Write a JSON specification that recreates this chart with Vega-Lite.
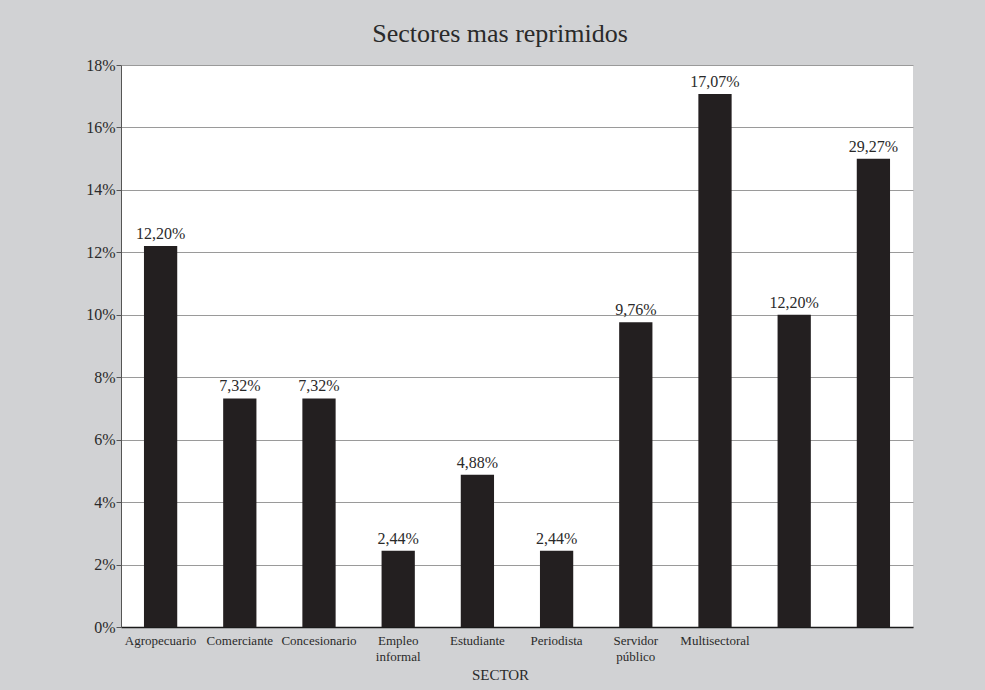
{
  "$schema": "https://vega.github.io/schema/vega-lite/v6.json",
  "width": 792,
  "height": 562,
  "autosize": {"type": "none"},
  "padding": {"left": 121, "top": 65, "right": 72, "bottom": 63},
  "background": "#d1d2d4",
  "title": {
    "text": "Sectores mas reprimidos",
    "font": "Liberation Serif",
    "fontSize": 26,
    "fontWeight": "normal",
    "color": "#2a2a2a",
    "anchor": "middle",
    "offset": 10,
    "dx": -17
  },
  "data": {
    "values": [
      {"sector": "Agropecuario", "pct": 12.2},
      {"sector": "Comerciante", "pct": 7.32},
      {"sector": "Concesionario", "pct": 7.32},
      {"sector": "Empleo|informal", "pct": 2.44},
      {"sector": "Estudiante", "pct": 4.88},
      {"sector": "Periodista", "pct": 2.44},
      {"sector": "Servidor|público", "pct": 9.76},
      {"sector": "Multisectoral", "pct": 17.07},
      {"sector": " ", "pct": 10, "etiqueta": "12,20%"},
      {"sector": "  ", "pct": 15, "etiqueta": "29,27%"}
    ]
  },
  "transform": [
    {"calculate": "datum.etiqueta ? datum.etiqueta : replace(format(datum.pct, '.2f'), '.', ',') + '%'", "as": "texto"}
  ],
  "encoding": {
    "x": {
      "field": "sector",
      "type": "nominal",
      "sort": null,
      "scale": {"paddingInner": 0.58, "paddingOuter": 0.29},
      "axis": {
        "title": "SECTOR",
        "titleFont": "Liberation Serif",
        "titleFontSize": 15,
        "titleFontWeight": "normal",
        "titleColor": "#2a2a2a",
        "titlePadding": 4,
        "titleX": 379,
        "labelAngle": 0,
        "labelFont": "Liberation Serif",
        "labelFontSize": 13,
        "labelColor": "#2a2a2a",
        "labelLineHeight": 16,
        "labelPadding": 7,
        "labelExpr": "split(datum.label, '|')",
        "ticks": false,
        "domainColor": "#1a1a1a",
        "domainWidth": 1.5,
        "grid": false
      }
    },
    "y": {
      "field": "pct",
      "type": "quantitative",
      "scale": {"domain": [0, 18], "nice": false},
      "axis": {
        "title": null,
        "values": [0, 2, 4, 6, 8, 10, 12, 14, 16, 18],
        "labelExpr": "datum.value + '%'",
        "labelFont": "Liberation Serif",
        "labelFontSize": 16,
        "labelColor": "#2a2a2a",
        "labelPadding": 1,
        "tickSize": 5,
        "tickColor": "#555555",
        "domainColor": "#555555",
        "gridColor": "#9a9a9a",
        "gridWidth": 1,
        "gridOpacity": 1
      }
    }
  },
  "layer": [
    {"mark": {"type": "bar", "color": "#231f20"}},
    {
      "mark": {
        "type": "text",
        "baseline": "bottom",
        "dy": -4,
        "font": "Liberation Serif",
        "fontSize": 16,
        "color": "#2a2a2a"
      },
      "encoding": {"text": {"field": "texto"}}
    }
  ],
  "config": {
    "view": {"fill": "white", "stroke": null}
  }
}
